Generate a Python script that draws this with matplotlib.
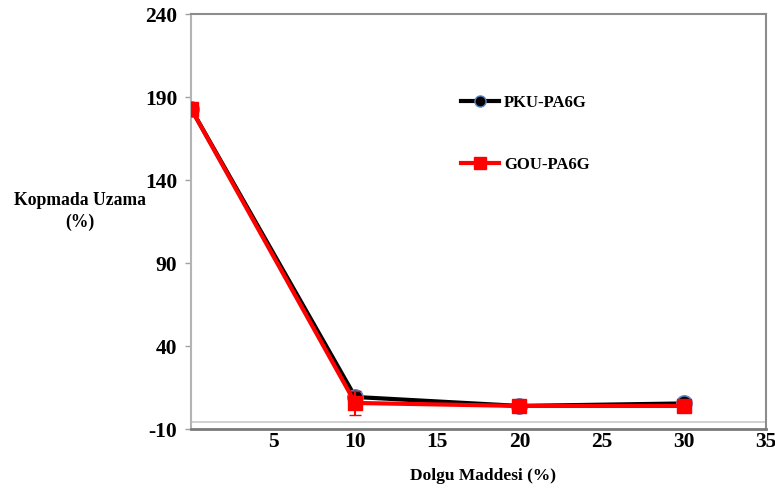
import matplotlib
matplotlib.use("Agg")
import matplotlib.pyplot as plt
from matplotlib.lines import Line2D

plt.rcParams["axes.unicode_minus"] = False

# Filler content (%) and elongation at break (%)
filler = [0, 10, 20, 30]
pku_pa6g = [183, 9.3, 3.9, 5.4]
gou_pa6g = [183, 5.7, 3.9, 3.9]
gou_err = [0, 7, 0, 0]

x_ticks = [5, 10, 15, 20, 25, 30, 35]
y_ticks = [-10, 40, 90, 140, 190, 240]

serif = ["Liberation Serif", "DejaVu Serif"]

fig = plt.figure(figsize=(7.75, 4.93), dpi=100)
ax = fig.add_axes([0.2465, 0.1298, 0.7415, 0.8418])

ax.plot(filler, pku_pa6g, color="black", lw=3, marker="o", ms=11,
        mfc="black", mec="#5b86c4", mew=1.2, zorder=3, label="PKU-PA6G")
ax.errorbar(filler, gou_pa6g, yerr=gou_err, color="#ff0000", lw=3,
            marker="s", ms=10, mfc="#ff0000", mec="#ff0000",
            ecolor="#ff0000", elinewidth=1.5, capsize=4, zorder=4,
            label="GOU-PA6G")

# faint reference line just above the bottom axis
ax.axhline(-5.8, color="#c8c8c8", lw=1.2, zorder=1)

ax.set_xlim(0, 35)
ax.set_ylim(-10, 240)
ax.set_xticks(x_ticks)
ax.set_yticks(y_ticks)

for lab in ax.get_xticklabels() + ax.get_yticklabels():
    lab.set_fontfamily(serif)
    lab.set_fontweight("bold")
    lab.set_fontsize(15.5)

ax.tick_params(axis="x", length=0, pad=2)
ax.tick_params(axis="y", length=4, width=1, color="#a0a0a0", pad=6)

ax.spines["left"].set_color("#b4b4b4")
ax.spines["left"].set_linewidth(1.5)
for side in ["top", "right"]:
    ax.spines[side].set_color("#8c8c8c")
    ax.spines[side].set_linewidth(1.5)
ax.spines["bottom"].set_color("#7a7a7a")
ax.spines["bottom"].set_linewidth(2)

fig.text(0.103, 0.571, "Kopmada Uzama\n(%)", ha="center", va="center",
         fontfamily=serif, fontweight="bold", fontsize=12.7, linespacing=1.3)
fig.text(0.623, 0.034, "Dolgu Maddesi (%)", ha="center", va="center",
         fontfamily=serif, fontweight="bold", fontsize=12.5)

handles = [
    Line2D([], [], color="black", lw=3, marker="o", ms=8, mfc="black",
           mec="#5b86c4", mew=1),
    Line2D([], [], color="#ff0000", lw=3, marker="s", ms=8, mfc="#ff0000",
           mec="#ff0000"),
]
leg = ax.legend(handles, ["PKU-PA6G", "GOU-PA6G"], frameon=False,
                loc="upper left", bbox_to_anchor=(0.469, 0.805),
                handlelength=2.3, handletextpad=0.3, labelspacing=2.75,
                borderpad=0, borderaxespad=0,
                prop={"family": serif, "weight": "bold", "size": 12})

fig.savefig("out.png", dpi=100, facecolor="white")
